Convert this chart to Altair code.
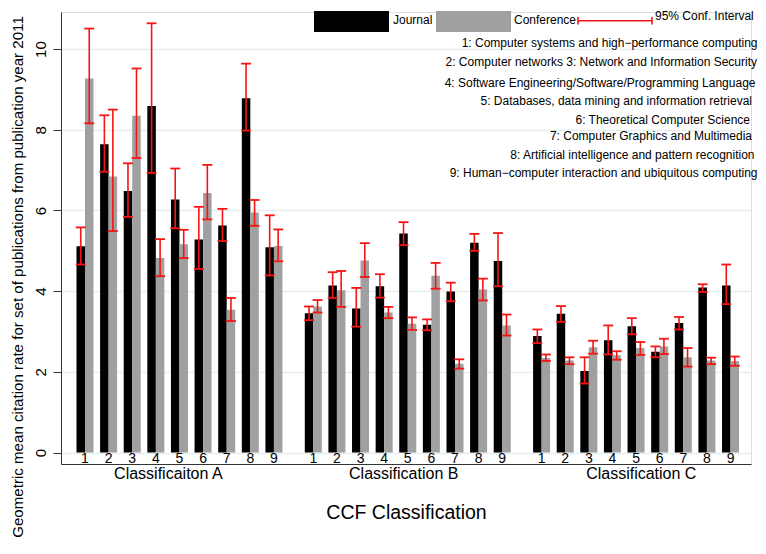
import altair as alt
import pandas as pd

# ---------------- data ----------------
groups = ["Classificaiton A", "Classification B", "Classification C"]
subjects = ["1", "2", "3", "4", "5", "6", "7", "8", "9"]
series_names = ["Journal", "Conference"]

journal_A = [5.11, 7.64, 6.48, 8.59, 6.27, 5.28, 5.63, 8.78, 5.09]
journal_A_lo = [4.66, 6.96, 5.84, 6.93, 5.56, 4.55, 5.24, 7.98, 4.39]
journal_A_hi = [5.58, 8.36, 7.17, 10.64, 7.04, 6.09, 6.04, 9.64, 5.88]
conf_A = [9.27, 6.84, 8.35, 4.82, 5.16, 6.43, 3.54, 5.95, 5.12]
conf_A_lo = [8.16, 5.49, 7.30, 4.37, 4.82, 5.78, 3.26, 5.62, 4.74]
conf_A_hi = [10.51, 8.50, 9.52, 5.29, 5.52, 7.13, 3.83, 6.26, 5.53]

journal_B = [3.45, 4.14, 3.57, 4.12, 5.43, 3.17, 3.99, 5.20, 4.75]
journal_B_lo = [3.28, 3.83, 3.12, 3.84, 5.14, 3.03, 3.75, 5.00, 4.12]
journal_B_hi = [3.62, 4.47, 4.08, 4.42, 5.71, 3.30, 4.21, 5.42, 5.44]
conf_B = [3.62, 4.02, 4.76, 3.47, 3.19, 4.38, 2.20, 4.04, 3.15]
conf_B_lo = [3.47, 3.61, 4.35, 3.33, 3.04, 4.06, 2.08, 3.77, 2.90]
conf_B_hi = [3.78, 4.50, 5.19, 3.61, 3.35, 4.70, 2.31, 4.31, 3.42]

journal_C = [2.89, 3.44, 2.02, 2.78, 3.13, 2.50, 3.21, 4.09, 4.14]
journal_C_lo = [2.71, 3.24, 1.71, 2.43, 2.93, 2.36, 3.05, 3.98, 3.68]
journal_C_hi = [3.05, 3.63, 2.36, 3.15, 3.33, 2.63, 3.36, 4.17, 4.66]
conf_C = [2.34, 2.28, 2.61, 2.41, 2.59, 2.63, 2.36, 2.28, 2.27]
conf_C_lo = [2.27, 2.19, 2.45, 2.30, 2.42, 2.44, 2.13, 2.19, 2.15]
conf_C_hi = [2.43, 2.36, 2.77, 2.51, 2.74, 2.82, 2.59, 2.35, 2.38]

descriptions = [
    "1: Computer systems and high\u2212performance computing",
    "2: Computer networks 3: Network and Information Security",
    "4: Software Engineering/Software/Programming Language",
    "5: Databases, data mining and information retrieval",
    "6: Theoretical Computer Science",
    "7: Computer Graphics and Multimedia",
    "8: Artificial intelligence and pattern recognition",
    "9: Human\u2212computer interaction and ubiquitous computing",
]
ci_label = "95% Conf. Interval"
y_title = "Geometric mean citation rate for set of publications from publication year 2011"
x_title = "CCF Classification"

# ---------------- table ----------------
GAP = 2 / 3
series_data = [
    (journal_A, journal_A_lo, journal_A_hi, conf_A, conf_A_lo, conf_A_hi),
    (journal_B, journal_B_lo, journal_B_hi, conf_B, conf_B_lo, conf_B_hi),
    (journal_C, journal_C_lo, journal_C_hi, conf_C, conf_C_lo, conf_C_hi),
]
rows = []
for g, (gname, vals) in enumerate(zip(groups, series_data)):
    jv, jl, jh, cv, cl, ch = vals
    for i, s in enumerate(subjects):
        pos = g * (9 + GAP) + i
        rows.append(dict(group=gname, sub=s, series="Journal", value=jv[i], lo=jl[i], hi=jh[i], pos=pos))
        rows.append(dict(group=gname, sub=s, series="Conference", value=cv[i], lo=cl[i], hi=ch[i], pos=pos))
df = pd.DataFrame(rows)
sub_df = df[df.series == "Journal"][["sub", "pos"]]
grp_label_shift = [-0.47, -0.17, 0.22]   # layout: label placement relative to group centre
grp_df = pd.DataFrame({"group": groups,
                       "pos": [g * (9 + GAP) + 4 + grp_label_shift[g] for g in range(3)]})

FONT = "Liberation Sans"
RED = "#f51515"
xscale = alt.Scale(domain=[-1.016, 28.2], nice=False, zero=False)
yscale = alt.Scale(domain=[-0.285, 10.92], nice=False, zero=False)

base = alt.Chart(df).transform_calculate(
    xs="datum.pos + (datum.series == 'Journal' ? -0.36 : 0)"
).transform_calculate(
    xe="datum.xs + 0.36", xc="datum.xs + 0.18"
).transform_calculate(
    cl="datum.xc - 0.21", cr="datum.xc + 0.21"
)

bars = base.mark_bar(strokeWidth=0).encode(
    x=alt.X("xs:Q", scale=xscale,
            axis=alt.Axis(title=x_title, labels=False, ticks=False, grid=False,
                          domainColor="#333333", domainWidth=1,
                          titleFontSize=19.5, titleFontWeight="normal", titleFont=FONT,
                          titleColor="black", titleY=48.7, titleBaseline="middle")),
    x2="xe:Q",
    y=alt.Y("value:Q", scale=yscale,
            axis=alt.Axis(title=y_title, values=[0, 2, 4, 6, 8, 10], labelAngle=270,
                          labelFontSize=15, labelFont=FONT, labelColor="black",
                          tickSize=8, tickColor="#333333", labelPadding=5,
                          grid=True, gridColor="#e6eef0", gridWidth=1.5,
                          domainColor="#333333", domainWidth=1,
                          titleFontSize=15.1, titleFontWeight="normal", titleFont=FONT,
                          titleColor="black", titleAngle=270, titleX=-44, titleY=264.5,
                          titleAlign="center", titleBaseline="middle")),
    y2=alt.datum(0),
    color=alt.Color("series:N", scale=alt.Scale(domain=series_names, range=["#000000", "#a0a0a0"]),
                    legend=None),
)

err = base.mark_rule(color=RED, strokeWidth=1.6).encode(x="xc:Q", y="lo:Q", y2="hi:Q")
cap_lo = base.mark_rule(color=RED, strokeWidth=1.8).encode(x="cl:Q", x2="cr:Q", y="lo:Q")
cap_hi = base.mark_rule(color=RED, strokeWidth=1.8).encode(x="cl:Q", x2="cr:Q", y="hi:Q")

sub_labels = alt.Chart(sub_df).mark_text(font=FONT, fontSize=14, baseline="middle", color="black").encode(
    x="pos:Q", y=alt.value(446.5), text="sub:N")
grp_labels = alt.Chart(grp_df).mark_text(font=FONT, fontSize=16, baseline="middle", color="black").encode(
    x="pos:Q", y=alt.value(461.5), text="group:N")

one = pd.DataFrame({"k": [0]})
leg = []
leg.append(alt.Chart(one).mark_rect(color="#000000").encode(
    x=alt.value(253), x2=alt.value(328), y=alt.value(-1), y2=alt.value(20)))
leg.append(alt.Chart(one).mark_rect(color="#a0a0a0").encode(
    x=alt.value(375), x2=alt.value(450), y=alt.value(-1), y2=alt.value(20)))
leg.append(alt.Chart(one).mark_text(font=FONT, fontSize=12, align="left", baseline="middle").encode(
    x=alt.value(332), y=alt.value(7.5), text=alt.value(series_names[0])))
leg.append(alt.Chart(one).mark_text(font=FONT, fontSize=12, align="left", baseline="middle").encode(
    x=alt.value(453), y=alt.value(7.5), text=alt.value(series_names[1])))
leg.append(alt.Chart(one).mark_rule(color=RED, strokeWidth=1.6).encode(
    x=alt.value(517), x2=alt.value(591), y=alt.value(8.7)))
leg.append(alt.Chart(one).mark_rule(color=RED, strokeWidth=1.6).encode(
    x=alt.value(517), y=alt.value(5), y2=alt.value(12.5)))
leg.append(alt.Chart(one).mark_rule(color=RED, strokeWidth=1.6).encode(
    x=alt.value(591), y=alt.value(5), y2=alt.value(12.5)))
leg.append(alt.Chart(one).mark_text(font=FONT, fontSize=12, align="left", baseline="middle").encode(
    x=alt.value(594), y=alt.value(4), text=alt.value(ci_label)))

desc_right = [696.5, 696, 694.5, 691, 689, 691, 693.5, 696.5]
desc_y = [31.3, 50, 70.7, 88.7, 108, 124, 143, 160.7]
for t, xr, yy in zip(descriptions, desc_right, desc_y):
    leg.append(alt.Chart(one).mark_text(font=FONT, fontSize=12, align="right", baseline="middle").encode(
        x=alt.value(xr), y=alt.value(yy), text=alt.value(t)))

chart = alt.layer(bars, err, cap_lo, cap_hi, sub_labels, grp_labels, *leg).properties(
    width=690, height=452,
    autosize=alt.AutoSizeParams(type="none"),
    padding={"left": 53, "top": 4, "right": 7, "bottom": 78},
).configure_view(stroke=None).configure(font=FONT)

chart.save("out.html", embed_options={"renderer": "svg", "actions": False})
